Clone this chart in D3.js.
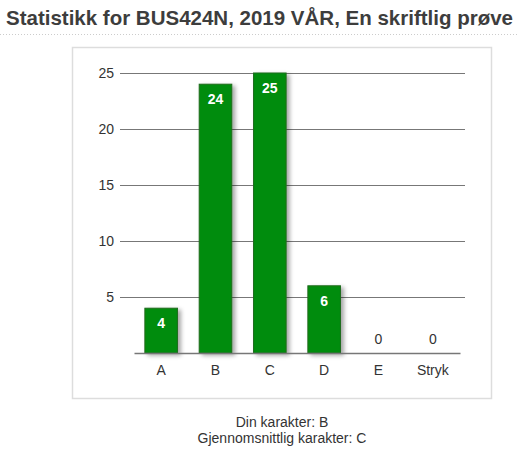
<!DOCTYPE html>
<html>
<head>
<meta charset="utf-8">
<script src="https://cdn.jsdelivr.net/npm/d3@7"></script>
<style>
  body { margin: 0; background: #fff; font-family: "Liberation Sans", Arial, sans-serif; }
</style>
</head>
<body>
<svg id="chart" width="518" height="470"></svg>
<script>
const categories = ["A", "B", "C", "D", "E", "Stryk"];
const counts = [4, 24, 25, 6, 0, 0];
const yTicks = [5, 10, 15, 20, 25];
const titleText = "Statistikk for BUS424N, 2019 VÅR, En skriftlig prøve";
const footerLines = ["Din karakter: B", "Gjennomsnittlig karakter: C"];

const svg = d3.select("#chart");

// drop shadow for bars
const defs = svg.append("defs");
const f = defs.append("filter").attr("id", "shadow")
  .attr("x", "-20%").attr("y", "-20%").attr("width", "150%").attr("height", "150%");
f.append("feDropShadow")
  .attr("dx", 3).attr("dy", 2).attr("stdDeviation", 2)
  .attr("flood-color", "#000").attr("flood-opacity", 0.35);

// title + dotted rule
svg.append("text")
  .attr("x", 6).attr("y", 25)
  .attr("font-size", 20.5).attr("font-weight", "bold")
  .attr("fill", "#3d3d3d")
  .text(titleText);

svg.append("line")
  .attr("x1", 0).attr("x2", 518).attr("y1", 34.5).attr("y2", 34.5)
  .attr("stroke", "#ccc").attr("stroke-dasharray", "1,2");

// chart frame
svg.append("rect")
  .attr("x", 72.5).attr("y", 47.5).attr("width", 419).attr("height", 351)
  .attr("fill", "#fff").attr("stroke", "#ddd").attr("stroke-width", 1.5);

const margin = { left: 134, right: 460, top: 73, bottom: 353 };

const x = d3.scaleBand()
  .domain(categories)
  .range([margin.left, margin.right])
  .paddingInner(0.4).paddingOuter(0.2);

const y = d3.scaleLinear()
  .domain([0, 25])
  .range([margin.bottom, margin.top]);

// gridlines + y labels
const yAxis = svg.append("g")
  .attr("transform", `translate(120,0)`)
  .call(d3.axisLeft(y).tickValues(yTicks).tickSize(-345).tickPadding(6));
yAxis.select(".domain").remove();
yAxis.selectAll(".tick line").attr("stroke", "#777").attr("stroke-width", 1);
yAxis.selectAll(".tick text")
  .attr("font-family", "Liberation Sans, Arial, sans-serif")
  .attr("font-size", 14).attr("fill", "#333");

// bars
svg.append("g").selectAll("rect")
  .data(counts)
  .join("rect")
  .attr("x", (d, i) => x(categories[i]))
  .attr("y", d => y(d))
  .attr("width", x.bandwidth())
  .attr("height", d => y(0) - y(d))
  .attr("fill", "#008c0a")
  .attr("stroke", "#1c6b1c").attr("stroke-width", 1)
  .attr("filter", "url(#shadow)")
  .style("display", d => d > 0 ? null : "none");

// x axis
const xAxis = svg.append("g")
  .attr("transform", `translate(0,${margin.bottom})`)
  .call(d3.axisBottom(x).tickSize(0).tickPadding(12));
xAxis.select(".domain").attr("stroke", "#777").attr("stroke-width", 1.5);
xAxis.selectAll(".tick text")
  .attr("font-family", "Liberation Sans, Arial, sans-serif")
  .attr("font-size", 14).attr("fill", "#333");

// value labels
svg.append("g").selectAll("text")
  .data(counts)
  .join("text")
  .attr("x", (d, i) => x(categories[i]) + x.bandwidth() / 2)
  .attr("y", d => d > 0 ? y(d) + 20 : y(0) - 9)
  .attr("text-anchor", "middle")
  .attr("font-size", 14)
  .attr("font-weight", d => d > 0 ? "bold" : "normal")
  .attr("fill", d => d > 0 ? "#fff" : "#333")
  .text(d => d);

// footer
svg.append("g").selectAll("text")
  .data(footerLines)
  .join("text")
  .attr("x", 282).attr("y", (d, i) => 427 + i * 16)
  .attr("text-anchor", "middle")
  .attr("font-size", 14).attr("fill", "#333")
  .text(d => d);
</script>
</body>
</html>
